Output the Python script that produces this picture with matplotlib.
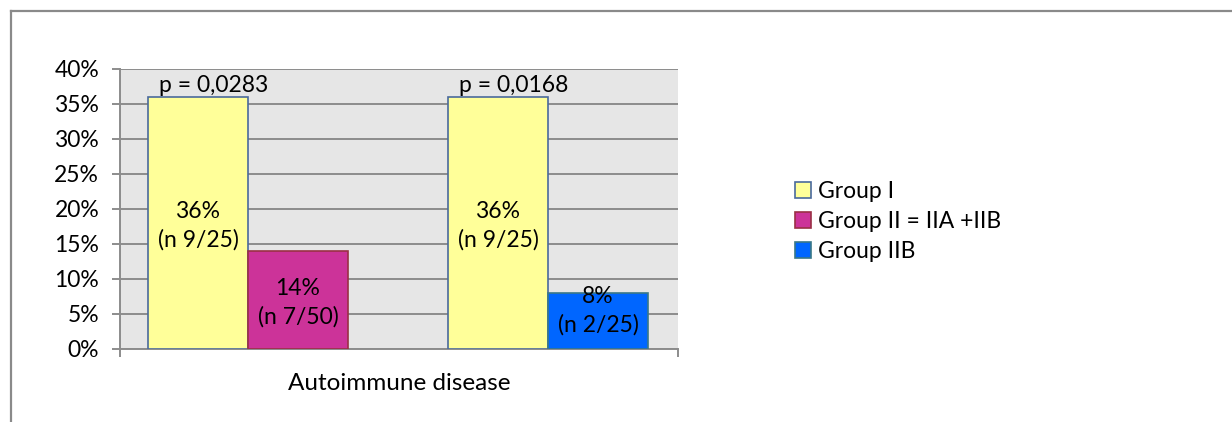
import matplotlib.pyplot as plt
from matplotlib.patches import Patch
from matplotlib.lines import Line2D

plt.rcParams["font.family"] = ["Lato", "DejaVu Sans"]
plt.rcParams["font.size"] = 16.5

# two comparisons, each a Group I bar next to its comparison group
series_names = ["Group I", "Group II = IIA +IIB", "Group IIB"]
bar_series = [0, 1, 0, 2]
bar_values = [0.36, 0.14, 0.36, 0.08]
bar_counts = ["n 9/25", "n 7/50", "n 9/25", "n 2/25"]
p_values = ["p = 0,0283", "p = 0,0168"]
category = "Autoimmune disease"

fills = ["#ffff99", "#cc3399", "#0066ff"]
edges = ["#4a6a9c", "#9a3045", "#3a7888"]

fig = plt.figure(figsize=(12.32, 4.22), dpi=100)
ax = fig.add_axes([0.0974, 0.173, 0.4529, 0.6635])

# outer chart frame (only top and left edges fall inside the image)
fig.add_artist(Line2D([11 / 1232, 1], [1 - 11 / 422, 1 - 11 / 422],
                      transform=fig.transFigure, color="#8a8a8a", lw=1.6))
fig.add_artist(Line2D([11 / 1232, 11 / 1232], [0, 1 - 11 / 422],
                      transform=fig.transFigure, color="#8a8a8a", lw=1.6))

ax.set_facecolor("#e6e6e6")
ax.set_xlim(0, 5.58)
ax.set_ylim(0, 0.40)

left_edges = [0.28, 1.28, 3.28, 4.28]
for x0, s, v, n in zip(left_edges, bar_series, bar_values, bar_counts):
    ax.bar(x0, v, width=1.0, align="edge", color=fills[s],
           edgecolor=edges[s], linewidth=1.2, zorder=3)
    label_y = max(v / 2 - 0.004, 0.054)
    ax.text(x0 + 0.5, label_y, f"{v:.0%}\n({n})", ha="center", va="center",
            linespacing=1.4, zorder=4)

for i, p in enumerate(p_values):
    x0 = left_edges[2 * i]
    ax.text(x0 + 0.66, bar_values[2 * i] + 0.001, p, ha="center",
            va="bottom", zorder=4)

ticks = [i * 0.05 for i in range(9)]
ax.set_yticks(ticks)
ax.set_yticklabels([f"{t:.0%}" for t in ticks])
ax.yaxis.grid(True, color="#8c8c8c", linewidth=1.4, zorder=1)
ax.set_axisbelow(True)

ax.set_xticks([0, 5.58])
ax.set_xticklabels(["", ""])
ax.set_xlabel(category, fontsize=17.5, labelpad=8)

for side in ["top", "right"]:
    ax.spines[side].set_visible(False)
for side in ["left", "bottom"]:
    ax.spines[side].set_color("#8c8c8c")
    ax.spines[side].set_linewidth(1.4)
ax.tick_params(axis="both", direction="out", length=6, width=1.4,
               color="#8c8c8c", labelcolor="black")
ax.tick_params(axis="y", pad=9)

handles = [Patch(facecolor=fills[i], edgecolor=edges[i], linewidth=1.2)
           for i in range(3)]
fig.legend(handles, series_names, loc="upper left",
           bbox_to_anchor=(0.645, 0.572), frameon=False,
           handlelength=0.7, handleheight=0.7, handletextpad=0.3,
           labelspacing=0.4, borderaxespad=0, borderpad=0)

fig.savefig("out.png", dpi=100, facecolor="white")
